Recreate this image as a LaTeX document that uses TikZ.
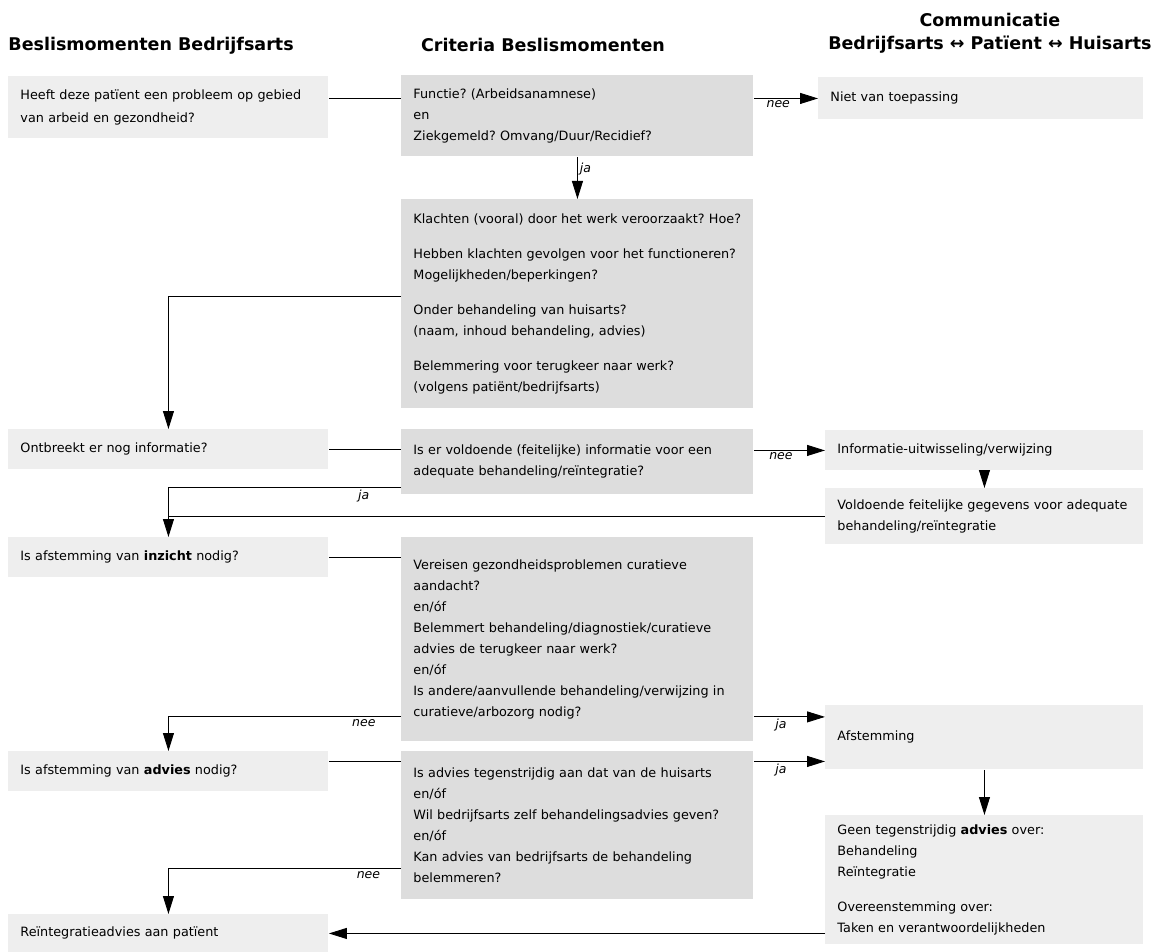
\documentclass[tikz,border=0pt]{standalone}
\usepackage{fontspec}
\setmainfont{DejaVu Sans}
\usetikzlibrary{arrows.meta}
\definecolor{lightbox}{HTML}{EEEEEE}
\definecolor{darkbox}{HTML}{DDDDDD}
\frenchspacing

\begin{document}
\begin{tikzpicture}[x=1pt,y=-1pt,line width=0.9pt,
    box/.style={anchor=north west, inner xsep=12pt, inner ysep=0pt, align=left,
      font=\fontsize{12.8}{21}\selectfont},
    lbox/.style={box, fill=lightbox, text width=296pt},
    mbox/.style={box, fill=darkbox, text width=328pt},
    rbox/.style={box, fill=lightbox, text width=294pt},
    hdr/.style={inner sep=0pt, font=\fontsize{17.5}{20}\selectfont\bfseries},
    lbl/.style={inner sep=2pt, font=\fontsize{12.5}{14}\selectfont\itshape},
    arr/.style={-{Triangle[length=18pt,width=11pt]}}]
    \useasboundingbox (0,0) rectangle (1154,952);

    \node[hdr, anchor=west] (hbed) at (8,46) {Beslismomenten Bedrijfsarts};
    \node[hdr] (hcrit) at (543,45) {Criteria Beslismomenten};
    \node[hdr, anchor=east] (hpart) at (1152,45) {Bedrijfsarts ↔ Patïent ↔ Huisarts};
    \node[hdr] (hcom) at (hpart.center |- 0,20) {Communicatie};

    \node[lbox, minimum height=62pt] (heeft) at (8,76) {Heeft deze patïent een probleem op gebied\\[2pt]van arbeid en gezondheid?};
    \node[mbox, minimum height=81pt] (functie) at (401,75) {Functie? (Arbeidsanamnese)\\en\\Ziekgemeld? Omvang/Duur/Recidief?};
    \node[rbox, text width=301pt, minimum height=42pt] (niet) at (818,77) {Niet van toepassing};
    \node[mbox, minimum height=209pt] (klachten) at (401,199) {Klachten (vooral) door het werk veroorzaakt? Hoe?\\[14pt]
      Hebben klachten gevolgen voor het functioneren?\\Mogelijkheden/beperkingen?\\[14pt]
      Onder behandeling van huisarts?\\(naam, inhoud behandeling, advies)\\[14pt]
      Belemmering voor terugkeer naar werk?\\(volgens patiënt/bedrijfsarts)};
    \node[lbox, minimum height=40pt] (ontbreekt) at (8,429) {Ontbreekt er nog informatie?};
    \node[mbox, minimum height=65pt] (voldoende) at (401,429) {Is er voldoende (feitelijke) informatie voor een\\adequate behandeling/reïntegratie?};
    \node[rbox, minimum height=40pt] (info) at (825,430) {Informatie-uitwisseling/verwijzing};
    \node[rbox, minimum height=56pt] (gegevens) at (825,488) {Voldoende feitelijke gegevens voor adequate\\behandeling/reïntegratie};
    \node[lbox, minimum height=40pt] (inzicht) at (8,537) {Is afstemming van \textbf{inzicht} nodig?};
    \node[mbox, minimum height=204pt] (vereisen) at (401,537) {Vereisen gezondheidsproblemen curatieve\\aandacht?\\en/óf\\
      Belemmert behandeling/diagnostiek/curatieve\\advies de terugkeer naar werk?\\en/óf\\
      Is andere/aanvullende behandeling/verwijzing in\\curatieve/arbozorg nodig?};
    \node[rbox, minimum height=64pt] (afstemming) at (825,705) {Afstemming};
    \node[lbox, minimum height=40pt] (advies) at (8,751) {Is afstemming van \textbf{advies} nodig?};
    \node[mbox, minimum height=148pt] (tegen) at (401,751) {Is advies tegenstrijdig aan dat van de huisarts\\en/óf\\
      Wil bedrijfsarts zelf behandelingsadvies geven?\\en/óf\\
      Kan advies van bedrijfsarts de behandeling\\belemmeren?};
    \node[rbox, minimum height=129pt] (geen) at (825,815) {Geen tegenstrijdig \textbf{advies} over:\\Behandeling\\Reïntegratie\\[14pt]
      Overeenstemming over:\\Taken en verantwoordelijkheden};
    \node[lbox, minimum height=38pt] (reint) at (8,914) {Reïntegratieadvies aan patïent};

    \draw (heeft.east |- niet.west) -- (functie.west |- niet.west);
    \draw[arr] (functie.east |- niet.west) -- node[lbl, below, pos=0.38] {nee} (niet.west);
    \draw[arr] (functie) -- node[lbl, right, pos=0.3] {ja} (klachten);
    \draw[arr] ([yshift=8pt]klachten.west) -| (ontbreekt.north);
    \draw (ontbreekt.east) -- (ontbreekt.east -| voldoende.west);
    \draw[arr] (voldoende.east |- info.west) -- node[lbl, below, pos=0.38] {nee} (info.west);
    \draw[arr] (info) -- (gegevens);
    \draw[arr] ([yshift=7pt]voldoende.south west) -| node[lbl, below, pos=0.08] {ja} (inzicht.north);
    \draw (gegevens.west) -- (gegevens.west -| inzicht.north);
    \draw (inzicht.east) -- (inzicht.east -| vereisen.west);
    \draw[arr] ([yshift=25pt]vereisen.south west) -| node[lbl, below, pos=0.08] {nee} (advies.north);
    \draw[arr] ([yshift=25pt]vereisen.south east) -- node[lbl, below, pos=0.38] {ja} ([yshift=25pt]vereisen.south east -| afstemming.west);
    \coordinate (adv) at ([yshift=10pt]advies.east);
    \draw (adv) -- (adv -| tegen.west);
    \draw[arr] (adv -| tegen.east) -- node[lbl, below, pos=0.38] {ja} (adv -| afstemming.west);
    \draw[arr] (afstemming) -- (geen);
    \draw[arr] ([yshift=31pt]tegen.south west) -| node[lbl, below, pos=0.07] {nee} (reint.north);
    \draw[arr] (geen.west |- reint.east) -- (reint.east);
\end{tikzpicture}
\end{document}
